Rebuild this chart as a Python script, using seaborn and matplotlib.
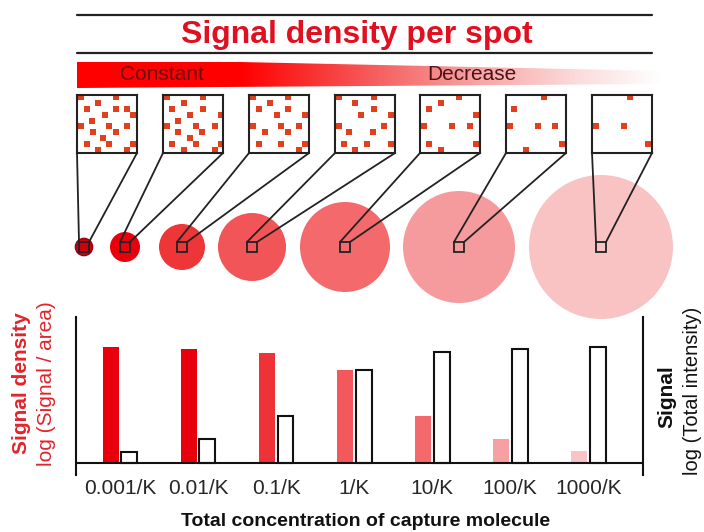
import numpy as np
import pandas as pd
import seaborn as sns
import matplotlib.pyplot as plt
from matplotlib.patches import Circle, Rectangle, Polygon
from matplotlib.colors import LinearSegmentedColormap

# bar chart data (log units)
concentrations = ["0.001/K", "0.01/K", "0.1/K", "1/K", "10/K", "100/K", "1000/K"]
signal_density = [9.67, 9.5, 9.17, 7.75, 3.9, 2.0, 1.0]
total_signal = [0.92, 2.0, 3.9, 7.75, 9.25, 9.5, 9.67]
bar_colors = ["#e8000d", "#e8000d", "#ef3238", "#f2585c", "#f46a6c", "#f6a0a2", "#f9c4c5"]

# spot schematic
spot_radius = [8.5, 15, 23, 34, 45, 56, 72]
spot_colors = ["#d0000c", "#e8000d", "#ee3538", "#f25558", "#f46a6c", "#f69b9d", "#f9c3c4"]

# captured molecules seen inside each zoom box (fractions of the box, y from top)
box_dots = [
    [(0.06, 0.03), (0.65, 0.03), (0.17, 0.24), (0.35, 0.14), (0.65, 0.24), (0.83, 0.24),
     (0.94, 0.35), (0.46, 0.34), (0.25, 0.45), (0.07, 0.53), (0.54, 0.53), (0.83, 0.53),
     (0.26, 0.64), (0.65, 0.64), (0.44, 0.74), (0.17, 0.84), (0.54, 0.84), (0.94, 0.84),
     (0.35, 0.94), (0.83, 0.94)],
    [(0.06, 0.03), (0.66, 0.03), (0.35, 0.14), (0.15, 0.24), (0.66, 0.24), (0.96, 0.35),
     (0.45, 0.34), (0.25, 0.45), (0.07, 0.53), (0.55, 0.53), (0.86, 0.53), (0.25, 0.64),
     (0.65, 0.64), (0.45, 0.74), (0.15, 0.84), (0.55, 0.84), (0.96, 0.84), (0.35, 0.94),
     (0.86, 0.94)],
    [(0.06, 0.03), (0.65, 0.03), (0.35, 0.14), (0.17, 0.24), (0.65, 0.24), (0.46, 0.34),
     (0.94, 0.35), (0.07, 0.53), (0.54, 0.53), (0.83, 0.53), (0.26, 0.64), (0.65, 0.64),
     (0.17, 0.84), (0.54, 0.84), (0.94, 0.84), (0.83, 0.94)],
    [(0.06, 0.03), (0.65, 0.03), (0.34, 0.14), (0.65, 0.24), (0.44, 0.34), (0.93, 0.34),
     (0.07, 0.53), (0.82, 0.53), (0.24, 0.64), (0.64, 0.64), (0.15, 0.84), (0.54, 0.84),
     (0.94, 0.84), (0.34, 0.94)],
    [(0.65, 0.03), (0.35, 0.14), (0.15, 0.24), (0.94, 0.35), (0.06, 0.53), (0.54, 0.53),
     (0.83, 0.53), (0.15, 0.84), (0.94, 0.84), (0.35, 0.94)],
    [(0.64, 0.03), (0.14, 0.24), (0.06, 0.53), (0.53, 0.53), (0.82, 0.53), (0.93, 0.84),
     (0.34, 0.94)],
    [(0.64, 0.03), (0.06, 0.53), (0.54, 0.53), (0.93, 0.84)],
]

sns.set_style("white")
plt.rcParams["font.family"] = ["Liberation Sans", "DejaVu Sans"]

W, H = 704, 532
fig = plt.figure(figsize=(W / 100, H / 100), dpi=100)

# overlay in pixel coordinates for the schematic and labels
ov = fig.add_axes([0, 0, 1, 1])
ov.axis("off")

ov.plot([77, 652], [15, 15], color="#222222", lw=1.6)
ov.plot([77, 652], [53, 53], color="#222222", lw=1.6)
ov.text(357, 35, "Signal density per spot", ha="center", va="center",
        fontsize=23, fontweight="bold", color="#e01020")

fade = LinearSegmentedColormap.from_list(
    "fade", [(0, "#ff0000"), (0.28, "#ff0000"), (0.5, "#f65a5a"),
             (0.68, "#f8a2a2"), (0.86, "#fcdcdc"), (1, "#ffffff")])
im = ov.imshow(np.linspace(0, 1, 256)[None, :], cmap=fade, aspect="auto",
               extent=(77, 662, 88, 62), zorder=1)
wedge = Polygon([(77, 62), (240, 62), (662, 71), (662, 84), (77, 88)],
                closed=True, fc="none", ec="none")
ov.add_patch(wedge)
im.set_clip_path(wedge)
ov.text(162, 75, "Constant", ha="center", va="center", fontsize=15, color="#6e0a12", zorder=2)
ov.text(472, 75, "Decrease", ha="center", va="center", fontsize=15, color="#4a1414", zorder=2)

box_left = [77, 163, 249, 335, 420, 506, 592]
spot_x = [84, 125, 182, 252, 345, 459, 601]
spot_y = 247
for i in range(7):
    ec = "#a0000e" if i == 0 else "none"
    ov.add_patch(Circle((spot_x[i], spot_y), spot_radius[i], fc=spot_colors[i],
                        ec=ec, lw=1.2, zorder=1))
    ov.add_patch(Rectangle((spot_x[i] - 5, spot_y - 5), 10, 10, fc="none",
                           ec="#222222", lw=1.3, zorder=3))
    ov.plot([box_left[i], spot_x[i] - 5], [153, spot_y - 5], color="#222222", lw=1.3, zorder=2)
    ov.plot([box_left[i] + 60, spot_x[i] + 5], [153, spot_y - 5], color="#222222", lw=1.3, zorder=2)

    bx = fig.add_axes([box_left[i] / W, 1 - 153 / H, 60 / W, 58 / H])
    dx = [d[0] for d in box_dots[i]]
    dy = [d[1] for d in box_dots[i]]
    sns.scatterplot(x=dx, y=dy, marker="s", s=24, color="#e0401c", linewidth=0, ax=bx)
    bx.set_xlim(0, 1)
    bx.set_ylim(1, 0)
    bx.set_xticks([])
    bx.set_yticks([])
    for sp in bx.spines.values():
        sp.set_color("#222222")
        sp.set_linewidth(1.5)

ov.set_xlim(0, W)
ov.set_ylim(H, 0)

# bar chart
ax = fig.add_axes([76 / W, 1 - 475 / H, (643 - 76) / W, (475 - 317) / H])
ax.patch.set_alpha(0)
df = pd.DataFrame({
    "conc": concentrations * 2,
    "value": signal_density + total_signal,
    "series": ["density"] * 7 + ["signal"] * 7,
})
sns.barplot(data=df, x="conc", y="value", hue="series", order=concentrations,
            hue_order=["density", "signal"], palette=["red", "white"],
            width=0.48, gap=0.15, saturation=1, legend=False, ax=ax)
for bar, c in zip(ax.containers[0], bar_colors):
    bar.set_facecolor(c)
    bar.set_edgecolor("none")
for bar in ax.containers[1]:
    bar.set_facecolor("white")
    bar.set_edgecolor("#111111")
    bar.set_linewidth(1.5)

ax.set_xlim(-0.564, 6.70)
ax.set_ylim(-1, 12.17)
ax.axhline(0, color="#111111", lw=1.5)
ax.spines["top"].set_visible(False)
ax.spines["bottom"].set_visible(False)
for side in ["left", "right"]:
    ax.spines[side].set_color("#111111")
    ax.spines[side].set_linewidth(1.5)
ax.set_yticks([])
ax.tick_params(axis="x", length=0, pad=3, labelsize=15)
ax.set_xlabel("")
ax.set_ylabel("")

ov.text(366, 522, "Total concentration of capture molecule", ha="center", va="center",
        fontsize=14, fontweight="bold", color="#111111")
ov.text(22, 383, "Signal density", rotation=90, ha="center", va="center",
        fontsize=15, fontweight="bold", color="#e3242b")
ov.text(47, 384, "log (Signal / area)", rotation=90, ha="center", va="center",
        fontsize=15, color="#e3242b")
ov.text(667, 397, "Signal", rotation=90, ha="center", va="center",
        fontsize=15, fontweight="bold", color="#111111")
ov.text(693, 391, "log (Total intensity)", rotation=90, ha="center", va="center",
        fontsize=14.5, color="#111111")

fig.savefig("out.png", dpi=100)
